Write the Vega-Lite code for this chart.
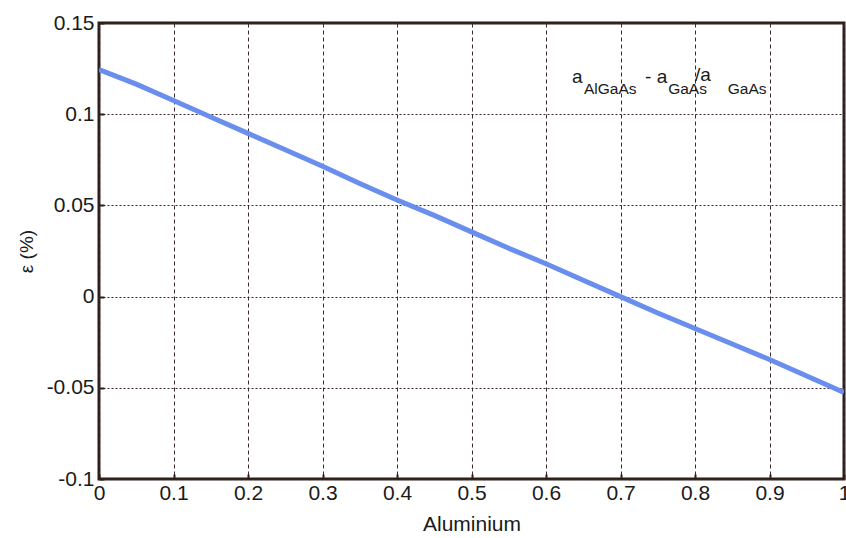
{
  "$schema": "https://vega.github.io/schema/vega-lite/v6.json",
  "width": 745,
  "height": 456,
  "autosize": "none",
  "padding": {"left": 99, "top": 23, "right": 2, "bottom": 59},
  "background": "white",
  "config": {
    "font": "Liberation Sans",
    "view": {"stroke": "#2e1e1a", "strokeWidth": 3},
    "axis": {
      "gridColor": "#3a2a2a",
      "gridWidth": 1,
      "gridOpacity": 1,
      "domain": false,
      "tickColor": "#2e1e1a",
      "tickSize": -5,
      "tickWidth": 2,
      "labelFont": "Liberation Sans",
      "labelFontSize": 21,
      "labelColor": "#1a1a1a",
      "labelExpr": "datum.value + ''",
      "titleFont": "Liberation Sans",
      "titleFontWeight": "normal",
      "titleColor": "#1a1a1a"
    }
  },
  "datasets": {
    "curve": [
      {"al": 0.0, "eps": 0.1245},
      {"al": 0.05, "eps": 0.1165},
      {"al": 0.1, "eps": 0.1075},
      {"al": 0.15, "eps": 0.0985},
      {"al": 0.2, "eps": 0.0895},
      {"al": 0.25, "eps": 0.0805},
      {"al": 0.3, "eps": 0.0715},
      {"al": 0.35, "eps": 0.062},
      {"al": 0.4, "eps": 0.053},
      {"al": 0.45, "eps": 0.0445},
      {"al": 0.5, "eps": 0.0355},
      {"al": 0.55, "eps": 0.0265},
      {"al": 0.6, "eps": 0.018},
      {"al": 0.65, "eps": 0.009},
      {"al": 0.7, "eps": 0.0},
      {"al": 0.75, "eps": -0.009},
      {"al": 0.8, "eps": -0.0175},
      {"al": 0.85, "eps": -0.026},
      {"al": 0.9, "eps": -0.0345},
      {"al": 0.95, "eps": -0.0435},
      {"al": 1.0, "eps": -0.0525}
    ],
    "main": [
      {"x": 0.635, "y": 0.117, "t": "a"},
      {"x": 0.733, "y": 0.117, "t": "- a"},
      {"x": 0.8, "y": 0.1183, "t": "/a"}
    ],
    "sub": [
      {"x": 0.651, "y": 0.1112, "t": "AlGaAs"},
      {"x": 0.764, "y": 0.1112, "t": "GaAs"},
      {"x": 0.844, "y": 0.1112, "t": "GaAs"}
    ]
  },
  "layer": [
    {
      "data": {"name": "curve"},
      "mark": {"type": "line", "color": "#6a8eee", "strokeWidth": 5, "clip": true},
      "encoding": {
        "x": {
          "field": "al", "type": "quantitative",
          "scale": {"domain": [0, 1], "nice": false},
          "axis": {"values": [0, 0.1, 0.2, 0.3, 0.4, 0.5, 0.6, 0.7, 0.8, 0.9, 1], "grid": true, "gridDash": [4, 3], "labelPadding": 8, "title": "Aluminium", "titleFontSize": 21, "titlePadding": 10, "labelFlush": false}
        },
        "y": {
          "field": "eps", "type": "quantitative",
          "scale": {"domain": [-0.1, 0.15], "nice": false},
          "axis": {"values": [-0.1, -0.05, 0, 0.05, 0.1, 0.15], "grid": true, "gridDash": [2, 2], "labelPadding": 10, "title": "ε (%)", "titleFontSize": 19, "titlePadding": 10, "labelFlush": false}
        }
      }
    },
    {
      "data": {"name": "main"},
      "mark": {"type": "text", "align": "left", "baseline": "alphabetic", "fontSize": 19, "color": "#1a1a1a", "font": "Liberation Sans"},
      "encoding": {
        "x": {"field": "x", "type": "quantitative"},
        "y": {"field": "y", "type": "quantitative"},
        "text": {"field": "t"}
      }
    },
    {
      "data": {"name": "sub"},
      "mark": {"type": "text", "align": "left", "baseline": "alphabetic", "fontSize": 15.5, "color": "#1a1a1a", "font": "Liberation Sans"},
      "encoding": {
        "x": {"field": "x", "type": "quantitative"},
        "y": {"field": "y", "type": "quantitative"},
        "text": {"field": "t"}
      }
    }
  ]
}
